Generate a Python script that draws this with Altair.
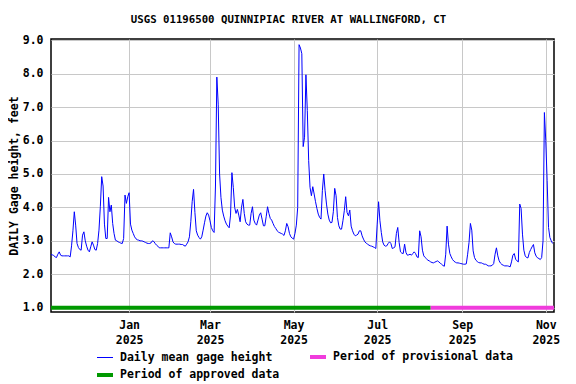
import altair as alt
import pandas as pd

# ---------------- data (daily mean gage height, feet) ----------------
START_DATE = "2024-11-05"

gage_nov = [2.59, 2.58, 2.56, 2.52, 2.50, 2.60, 2.67, 2.57, 2.55, 2.55, 2.55, 2.55, 2.55, 2.55, 2.52]
gage_nov_dec = [2.85, 3.30, 3.87, 3.47, 2.92, 2.80, 2.74, 2.72, 3.17, 3.27, 3.00, 2.84, 2.72, 2.67,
                2.82, 2.97, 2.87, 2.74, 2.72, 2.92, 3.32, 4.02, 4.92, 4.64, 3.50, 3.07, 3.07, 4.30,
                3.87, 4.07, 3.52, 3.22, 3.02, 3.00, 2.97, 2.95, 2.93]
gage_dec_feb = [2.92, 3.07, 4.37, 4.12, 4.32, 4.44, 3.50, 3.32, 3.22, 3.12, 3.06, 3.03, 3.02, 3.00,
                3.00, 2.99, 2.97, 2.95, 2.93, 2.92, 2.92, 2.94, 3.00, 2.98, 2.92, 2.87, 2.84, 2.79,
                2.79, 2.79, 2.79, 2.79, 2.79, 2.79, 2.79, 3.24, 3.12, 2.97, 2.92, 2.90, 2.90, 2.90,
                2.90, 2.89, 2.89, 2.86, 2.84, 2.90, 2.97, 3.12, 3.57]
gage_feb_apr = [4.17, 4.54, 3.85, 3.30, 3.17, 3.10, 3.05, 3.12, 3.32, 3.54, 3.74, 3.84, 3.77, 3.60,
                3.40, 3.30, 3.25, 4.64, 7.90, 7.09, 5.00, 4.30, 3.92, 3.74, 3.60, 3.50, 3.44, 3.39,
                3.77, 5.04, 4.60, 4.00, 3.82, 3.94, 3.77, 3.57, 4.00, 4.24, 3.82, 3.57, 3.50, 3.47,
                3.47, 3.82, 4.02, 3.62, 3.52, 3.47, 3.62, 3.77, 3.84]
gage_apr_may = [3.65, 3.45, 3.45, 3.72, 4.02, 3.82, 3.67, 3.62, 3.52, 3.43, 3.37, 3.30, 3.26, 3.24,
                3.22, 3.20, 3.16, 3.30, 3.52, 3.42, 3.22, 3.12, 3.08, 3.05, 3.22, 3.47, 4.00, 8.87,
                8.77, 8.60, 5.82, 6.10, 7.97, 6.90, 5.40, 4.60, 4.35, 4.62, 4.40, 4.17, 3.97, 3.80,
                3.70, 3.65, 4.50, 5.00, 4.50, 4.10, 3.80, 3.62, 3.54]
gage_may_jul = [3.55, 3.87, 4.57, 4.35, 3.70, 3.45, 3.35, 3.35, 3.60, 3.90, 4.32, 3.85, 3.75, 3.92,
                3.44, 3.30, 3.20, 3.15, 3.17, 3.20, 3.30, 3.30, 3.15, 3.05, 2.97, 2.93, 2.90, 2.87,
                2.85, 2.84, 2.82, 2.80, 2.77, 3.50, 4.17, 3.60, 3.25, 2.97, 2.87, 2.84, 2.85, 2.92,
                2.97, 2.92, 2.77, 2.79, 2.82, 3.22, 3.40, 2.95, 2.67, 2.63]
gage_jul_sep = [2.62, 2.90, 2.65, 2.57, 2.58, 2.60, 2.57, 2.62, 2.67, 2.62, 2.52, 2.50, 3.30, 3.12,
                2.72, 2.55, 2.50, 2.46, 2.42, 2.40, 2.37, 2.35, 2.34, 2.36, 2.38, 2.40, 2.37, 2.33,
                2.30, 2.26, 2.24, 2.60, 3.44, 2.90, 2.62, 2.52, 2.44, 2.39, 2.36, 2.34, 2.34, 2.33,
                2.32, 2.31, 2.30, 2.30, 2.31, 2.60, 2.95, 3.52, 3.32, 2.70, 2.50, 2.42, 2.38]
gage_sep_nov = [2.35, 2.34, 2.34, 2.32, 2.30, 2.30, 2.28, 2.25, 2.25, 2.25, 2.27, 2.32, 2.60, 2.79,
                2.55, 2.40, 2.33, 2.29, 2.27, 2.25, 2.25, 2.25, 2.24, 2.22, 2.37, 2.57, 2.62, 2.45,
                2.40, 2.37, 4.10, 3.97, 3.20, 2.72, 2.55, 2.50, 2.49, 2.65, 2.74, 2.82, 2.89, 2.64,
                2.54, 2.49, 2.47, 2.44, 2.50, 3.00, 6.84, 6.00, 4.80, 3.40, 3.10, 3.00, 2.92]

gage_values = (gage_nov + gage_nov_dec + gage_dec_feb + gage_feb_apr + gage_apr_may
               + gage_may_jul + gage_jul_sep + gage_sep_nov)

period_labels = ["Period of approved data", "Period of provisional data"]
period_start = ["2024-11-05", "2025-08-09"]
period_end = ["2025-08-09", "2025-11-07"]

# legend is laid out column by column: [col 1: daily, approved], [col 2: provisional]
series_names = ["Daily mean gage height", "Period of approved data", "Period of provisional data"]
series_colors = ["#0000ff", "#009900", "#f03cdc"]
series_widths = [1, 4, 4]

x_ticks = ["2025-01-01", "2025-03-01", "2025-05-01", "2025-07-01", "2025-09-01", "2025-11-01"]
y_ticks = [1, 2, 3, 4, 5, 6, 7, 8, 9]

TITLE = "USGS 01196500 QUINNIPIAC RIVER AT WALLINGFORD, CT"
Y_TITLE = "DAILY Gage height, feet"

# ---------------- tables ----------------
dates = pd.date_range(START_DATE, periods=len(gage_values), freq="D")
line_df = pd.DataFrame({
    "date": dates.strftime("%Y-%m-%d"),
    "gage": gage_values,
    "series": series_names[0],
})
period_df = pd.DataFrame({
    "start": period_start,
    "end": period_end,
    "series": period_labels,
    "level": [1.0] * len(period_labels),
})

FONT = "DejaVu Sans Mono"

def to_dt(s):
    y, m, d = (int(p) for p in s.split("-"))
    return alt.DateTime(year=y, month=m, date=d, utc=True)

x_scale = alt.Scale(type="utc", domain=[to_dt("2024-11-05"), to_dt("2025-11-07")], nice=False)
y_scale = alt.Scale(domain=[0.87, 9.04], nice=False, zero=False)
color_scale = alt.Scale(domain=series_names, range=series_colors)
width_scale = alt.Scale(type="ordinal", domain=series_names, range=series_widths)

x_axis = alt.Axis(
    values=[to_dt(t) for t in x_ticks],
    labelExpr="[utcFormat(datum.value, '%b'), utcFormat(datum.value, '%Y')]",
    title=None, grid=True, ticks=False, domain=False,
    labelFlush=False, labelOverlap=False, labelPadding=7, labelLineHeight=15,
)
y_axis = alt.Axis(
    values=y_ticks, format=".1f", title=Y_TITLE, grid=True, ticks=False,
    domain=False, labelPadding=8, titlePadding=3, labelOverlap=False,
)

legend = alt.Legend(
    title=None, orient="none", legendX=44, legendY=308, columns=2,
    values=series_names,
    symbolType="stroke", symbolSize=256, columnPadding=22, rowPadding=-4,
    labelOffset=5,
)

line = alt.Chart(line_df).mark_line(interpolate="linear").encode(
    x=alt.X("date:T", scale=x_scale, axis=x_axis),
    y=alt.Y("gage:Q", scale=y_scale, axis=y_axis),
    color=alt.Color("series:N", scale=color_scale, legend=legend),
    strokeWidth=alt.StrokeWidth("series:N", scale=width_scale, legend=legend),
)

periods = alt.Chart(period_df).mark_rule().encode(
    x=alt.X("start:T", scale=x_scale, axis=x_axis),
    x2="end:T",
    y=alt.Y("level:Q", scale=y_scale, axis=y_axis),
    color=alt.Color("series:N", scale=color_scale, legend=legend),
    strokeWidth=alt.StrokeWidth("series:N", scale=width_scale, legend=legend),
)

chart = alt.layer(periods, line).properties(
    width=503,
    height=273,
    background="white",
    autosize=alt.AutoSizeParams(type="none"),
    padding={"left": 43, "top": 31, "right": 14, "bottom": 72},
    title=alt.TitleParams(
        TITLE, font=FONT, fontSize=10.7, fontWeight="bold", color="black",
        anchor="middle", dx=-14, offset=9,
    ),
).configure_view(
    stroke="black", strokeWidth=1.5,
).configure_axis(
    labelFont=FONT, labelFontSize=11.5, labelFontWeight="bold", labelColor="black",
    titleFont=FONT, titleFontSize=11.5, titleFontWeight="bold", titleColor="black",
    gridColor="#c8c8c8", gridWidth=1,
).configure_legend(
    labelFont=FONT, labelFontSize=11.5, labelFontWeight="bold", labelColor="black",
    labelLimit=400,
)

chart.save("out.html", embed_options={"renderer": "svg", "actions": False})
